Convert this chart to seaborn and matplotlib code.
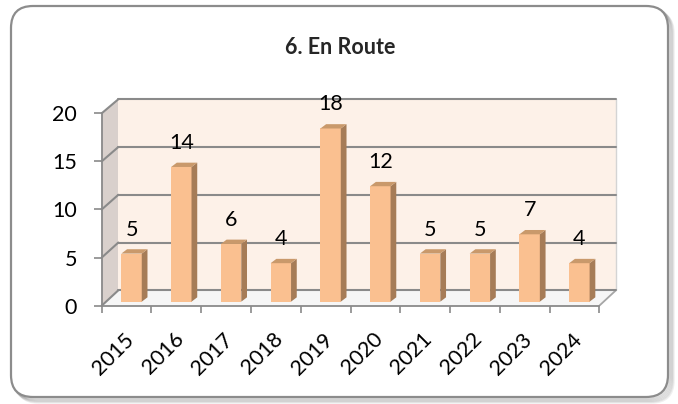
import numpy as np
import pandas as pd
import matplotlib
matplotlib.use('Agg')
import matplotlib.pyplot as plt
from matplotlib.patches import Polygon, FancyBboxPatch
from matplotlib.transforms import ScaledTranslation
import seaborn as sns

# data
years = ['2015', '2016', '2017', '2018', '2019', '2020', '2021', '2022', '2023', '2024']
counts = [5, 14, 6, 4, 18, 12, 5, 5, 7, 4]
y_ticks = [0, 5, 10, 15, 20]
title = '6. En Route'

sns.set_theme(style='white')
plt.rcParams['font.family'] = ['Lato', 'DejaVu Sans']

fig = plt.figure(figsize=(6.78, 4.04), dpi=100)

# rounded frame with a soft shadow, drawn in pixel coordinates
bg = fig.add_axes([0, 0, 1, 1], zorder=0)
bg.set_xlim(0, 678)
bg.set_ylim(404, 0)
bg.axis('off')
for i in range(6, 0, -1):
    bg.add_patch(FancyBboxPatch((11 + i * 0.9, 6 + i * 0.9), 657, 391,
                                boxstyle='round,pad=0,rounding_size=22',
                                fc='none', ec='#000000', lw=2, alpha=0.06))
bg.add_patch(FancyBboxPatch((11, 6), 657, 391, boxstyle='round,pad=0,rounding_size=22',
                            fc='white', ec='#8c8c8c', lw=1.6))

# plot area: front axis from x=-0.5..9.5, y=0..20
ax = fig.add_axes([101.7 / 678, (404 - 305.7) / 404, 497.6 / 678, 192.4 / 404], zorder=1)
ax.patch.set_visible(False)

DX, DY = 0.334, 1.6      # depth of the box (walls)
BX, BY = 0.10, 0.42      # bar plane offset
SX, SY = 0.115, 0.45     # bar depth
BS = 0.993               # back wall scale

left, right = -0.5, len(years) - 0.5
grid_c = '#8a8a8a'

# walls and floor
ax.add_patch(Polygon([(left, 0), (left + DX, DY), (left + DX, DY + 20 * BS), (left, 20)],
                     closed=True, fc='#d9d0cc', ec='none', zorder=0, clip_on=False))
ax.add_patch(Polygon([(left + DX, DY), (right + DX, DY), (right + DX, DY + 20 * BS), (left + DX, DY + 20 * BS)],
                     closed=True, fc='#fdf1e8', ec='none', zorder=0, clip_on=False))
ax.add_patch(Polygon([(left, 0), (right, 0), (right + DX, DY), (left + DX, DY)],
                     closed=True, fc='#f6f6f6', ec='none', zorder=0, clip_on=False))
ax.plot([right, right + DX], [0, DY], color='#a6a6a6', lw=1.3, clip_on=False, zorder=1)
ax.plot([right + DX, right + DX], [DY, DY + 20 * BS], color='#d4d4d4', lw=1.0, clip_on=False, zorder=1)
for v in y_ticks:
    yb = DY + v * BS
    ax.plot([left + DX, right + DX], [yb, yb], color=grid_c, lw=1.5, clip_on=False, zorder=1)
    ax.plot([left, left + DX], [v, yb], color=grid_c, lw=1.5, clip_on=False, zorder=1)

df = pd.DataFrame({'year': years, 'count': counts})
sns.barplot(data=df, x='year', y='count', color='#FAC090', saturation=1, width=0.41,
            linewidth=0, ax=ax, zorder=3)

for p, v in zip(ax.containers[0], counts):
    x0 = p.get_x() + BX
    w = p.get_width()
    p.set_x(x0)
    p.set_y(BY)
    top = BY + v
    ax.add_patch(Polygon([(x0 + w, BY), (x0 + w + SX, BY + SY), (x0 + w + SX, top + SY), (x0 + w, top)],
                         closed=True, fc='#a67c57', ec='none', zorder=3, clip_on=False))
    ax.add_patch(Polygon([(x0, top), (x0 + w, top), (x0 + w + SX, top + SY), (x0 + SX, top + SY)],
                         closed=True, fc='#c9996b', ec='none', zorder=3, clip_on=False))
    ax.text(x0 + w / 2, top + 2.5, str(v), ha='center', va='center', fontsize=15.5,
            color='black', zorder=4, clip_on=False)

ax.set_xlim(left, right)
ax.set_ylim(0, 20)
ax.set_yticks(y_ticks)
ax.set_xticks(range(len(years)))
ax.set_xticklabels(years)
ax.set_xticks(np.arange(left, right + 0.5, 1), minor=True)
ax.set_xlabel('')
ax.set_ylabel('')
ax.tick_params(axis='y', which='major', length=5.8, width=1.2, color=grid_c, labelsize=15.5, pad=12,
               left=True, labelcolor='black')
ax.tick_params(axis='x', which='major', length=0, labelsize=15.5, pad=22, labelcolor='black')
ax.tick_params(axis='x', which='minor', length=5, width=1.2, color=grid_c, bottom=True)
for lbl in ax.get_xticklabels():
    lbl.set_rotation(45)
    lbl.set_ha('right')
    lbl.set_va('center')
    lbl.set_rotation_mode('anchor')
    lbl.set_transform(lbl.get_transform() + ScaledTranslation(0.04, 0, fig.dpi_scale_trans))

sns.despine(ax=ax, top=True, right=True)
for s in ['left', 'bottom']:
    ax.spines[s].set_color(grid_c)
    ax.spines[s].set_linewidth(1.3)

fig.text(340 / 678, 1 - 47 / 404, title, ha='center', va='center', fontsize=15.5, fontweight='bold')

fig.savefig('out.png', dpi=100)
